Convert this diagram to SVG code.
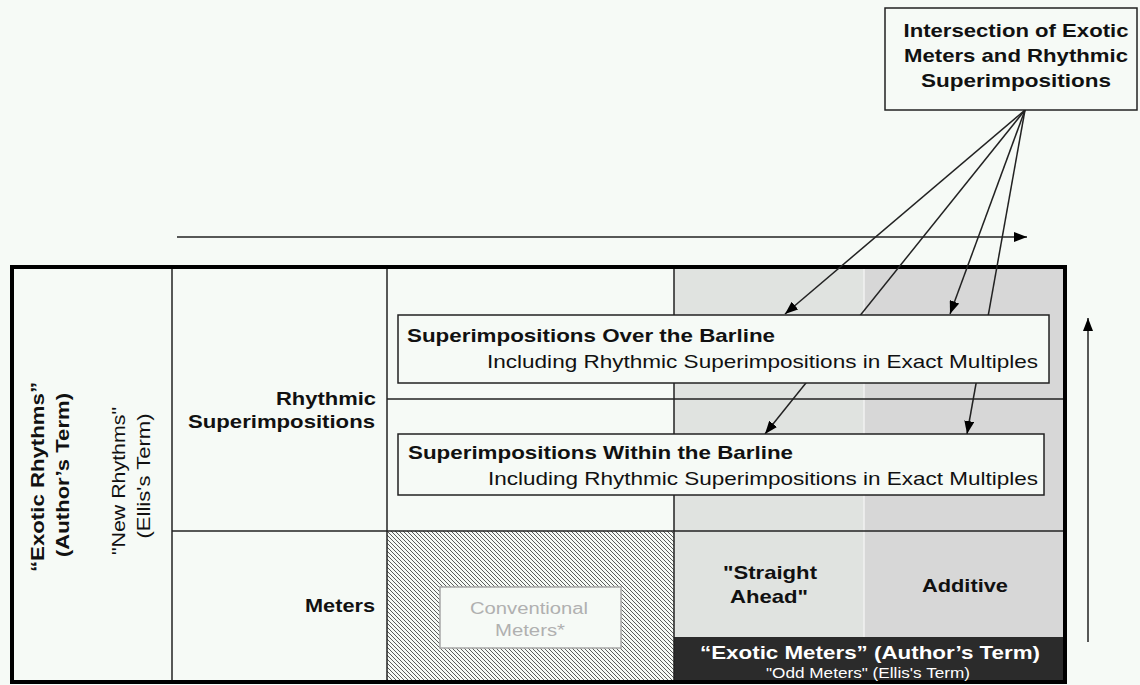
<svg xmlns="http://www.w3.org/2000/svg" width="1140" height="685" viewBox="0 0 1140 685">
<style>
.b{font-family:"Liberation Sans",Arial,sans-serif;font-weight:bold;font-size:18.5px;fill:#111}
.r{font-family:"Liberation Sans",Arial,sans-serif;font-size:18.5px;fill:#111}
.ln{stroke:#222;stroke-width:1.5;fill:none}
.box{fill:#f6faf6;stroke:#222;stroke-width:1.5}
</style>
<defs>
<marker id="ah" viewBox="0 0 13 10" refX="13" refY="5" markerWidth="13" markerHeight="10" markerUnits="userSpaceOnUse" orient="auto">
<path d="M0,0 L13,5 L0,10 z" fill="#000"/>
</marker>
<pattern id="hatch" patternUnits="userSpaceOnUse" width="4" height="4">
<rect width="4" height="4" fill="#f6faf6"/>
<path d="M-1,-1 L5,5 M-1,3 L1,5 M3,-1 L5,1" stroke="#333" stroke-width="0.8"/>
</pattern>
</defs>
<rect width="1140" height="685" fill="#f6faf6"/>

<g id="grid">
<rect x="674" y="267" width="190" height="370" fill="#e0e3e0"/>
<rect x="864" y="267" width="201" height="370" fill="#d7d7d7"/>
<line x1="864" y1="267" x2="864" y2="637" stroke="#f2f2f2" stroke-width="1.5"/>
<rect x="674" y="637" width="391" height="45" fill="#2b2b2b"/>
<rect x="387" y="531" width="287" height="151" fill="url(#hatch)"/>
<line class="ln" x1="172" y1="267" x2="172" y2="682"/>
<line class="ln" x1="387" y1="267" x2="387" y2="682"/>
<line class="ln" x1="674" y1="267" x2="674" y2="682"/>
<line class="ln" x1="387" y1="399" x2="1065" y2="399"/>
<line class="ln" x1="172" y1="531" x2="1065" y2="531"/>
<rect x="12" y="267" width="1053" height="415" fill="none" stroke="#000" stroke-width="4"/>
</g>

<g id="connectors">
<line class="ln" x1="177" y1="237" x2="1027" y2="237" marker-end="url(#ah)"/>
<line class="ln" x1="1088" y1="642" x2="1088" y2="318" marker-end="url(#ah)"/>
<line class="ln" x1="1025" y1="110" x2="785" y2="314" marker-end="url(#ah)"/>
<line class="ln" x1="1025" y1="110" x2="765" y2="434" marker-end="url(#ah)"/>
<line class="ln" x1="1025" y1="110" x2="950" y2="314" marker-end="url(#ah)"/>
<line class="ln" x1="1025" y1="110" x2="967" y2="434" marker-end="url(#ah)"/>
</g>

<g id="node-intersection">
<rect class="box" x="885" y="8" width="252" height="102"/>
<text class="b" x="1016" y="37" text-anchor="middle" textLength="225" lengthAdjust="spacingAndGlyphs">Intersection of Exotic</text>
<text class="b" x="1016" y="62" text-anchor="middle" textLength="224" lengthAdjust="spacingAndGlyphs">Meters and Rhythmic</text>
<text class="b" x="1016" y="87" text-anchor="middle" textLength="190" lengthAdjust="spacingAndGlyphs">Superimpositions</text>
</g>

<g id="node-over">
<rect class="box" x="398" y="315" width="651" height="68"/>
<text class="b" x="407" y="342" textLength="368" lengthAdjust="spacingAndGlyphs">Superimpositions Over the Barline</text>
<text class="r" x="487" y="368" textLength="551" lengthAdjust="spacingAndGlyphs">Including Rhythmic Superimpositions in Exact Multiples</text>
</g>

<g id="node-within">
<rect class="box" x="398" y="434" width="646" height="61"/>
<text class="b" x="408" y="459" textLength="385" lengthAdjust="spacingAndGlyphs">Superimpositions Within the Barline</text>
<text class="r" x="488" y="485" textLength="550" lengthAdjust="spacingAndGlyphs">Including Rhythmic Superimpositions in Exact Multiples</text>
</g>

<g id="node-exotic-rhythms">
<text class="b" transform="translate(44,477) rotate(-90)" text-anchor="middle" textLength="190" lengthAdjust="spacingAndGlyphs">“Exotic Rhythms”</text>
<text class="b" transform="translate(69,475) rotate(-90)" text-anchor="middle" textLength="164" lengthAdjust="spacingAndGlyphs">(Author’s Term)</text>
<text class="r" transform="translate(125,481) rotate(-90)" text-anchor="middle" textLength="148" lengthAdjust="spacingAndGlyphs">"New Rhythms"</text>
<text class="r" transform="translate(150,476) rotate(-90)" text-anchor="middle" textLength="125" lengthAdjust="spacingAndGlyphs">(Ellis's Term)</text>
</g>

<g id="node-rhythmic">
<text class="b" x="376" y="405" text-anchor="end" textLength="100" lengthAdjust="spacingAndGlyphs">Rhythmic</text>
<text class="b" x="375" y="428" text-anchor="end" textLength="187" lengthAdjust="spacingAndGlyphs">Superimpositions</text>
</g>

<g id="node-meters">
<text class="b" x="375" y="612" text-anchor="end" textLength="70" lengthAdjust="spacingAndGlyphs">Meters</text>
</g>

<g id="node-conventional">
<rect x="440" y="587" width="181" height="61" fill="#f6faf6" stroke="#a8a8a8" stroke-width="1.5"/>
<text class="r" x="529" y="614" text-anchor="middle" style="fill:#b0b0b0;font-size:16px" textLength="118" lengthAdjust="spacingAndGlyphs">Conventional</text>
<text class="r" x="530" y="636" text-anchor="middle" style="fill:#b0b0b0;font-size:16px" textLength="70" lengthAdjust="spacingAndGlyphs">Meters*</text>
</g>

<g id="node-straight">
<text class="b" x="770" y="579" text-anchor="middle" textLength="94" lengthAdjust="spacingAndGlyphs">"Straight</text>
<text class="b" x="769" y="603" text-anchor="middle" textLength="78" lengthAdjust="spacingAndGlyphs">Ahead"</text>
</g>

<g id="node-additive">
<text class="b" x="965" y="592" text-anchor="middle" textLength="86" lengthAdjust="spacingAndGlyphs">Additive</text>
</g>

<g id="node-exotic-meters">
<text class="b" x="870" y="659" text-anchor="middle" style="fill:#fff" textLength="340" lengthAdjust="spacingAndGlyphs">“Exotic Meters” (Author’s Term)</text>
<text class="r" x="868" y="678" text-anchor="middle" style="fill:#fff;font-size:14px" textLength="204" lengthAdjust="spacingAndGlyphs">"Odd Meters" (Ellis's Term)</text>
</g>
</svg>
